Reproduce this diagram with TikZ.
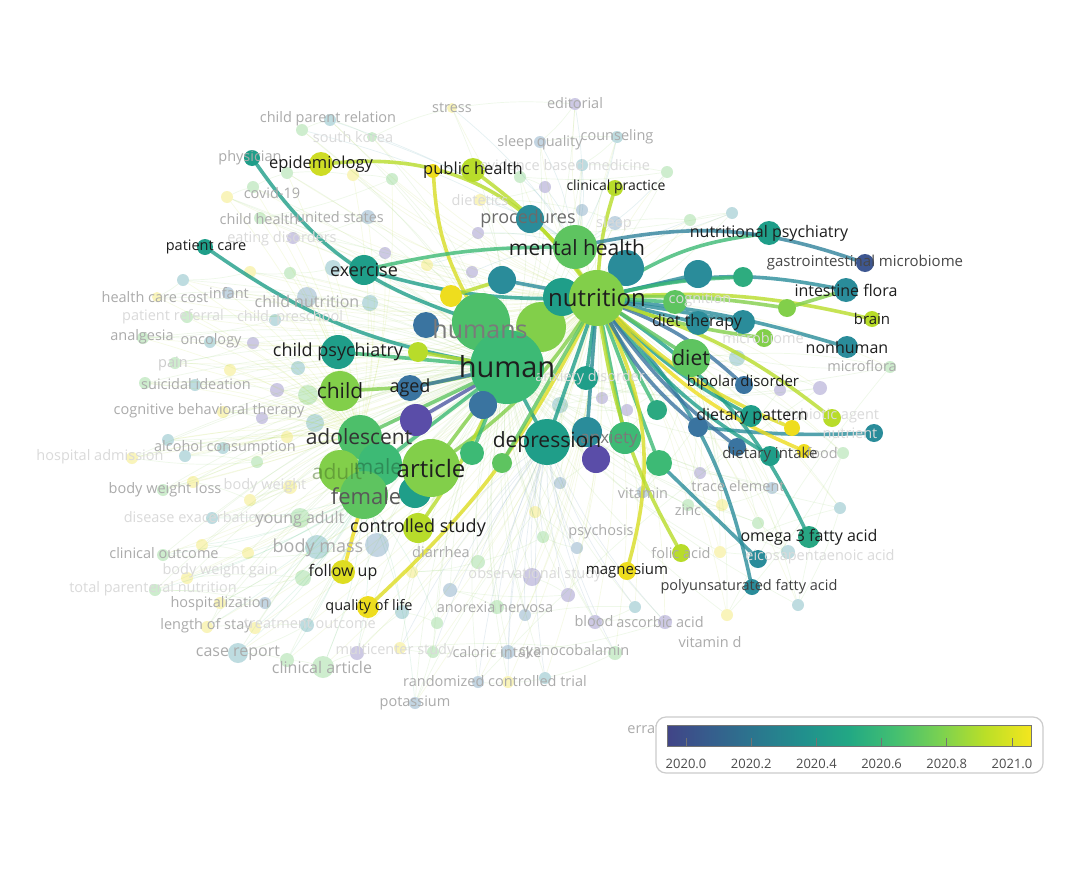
\documentclass[tikz,border=0pt]{standalone}
\usepackage{fontspec}
\setmainfont{Open Sans}

% overlay colours (viridis)
\definecolor{vA}{HTML}{414487}
\definecolor{vP}{HTML}{5A4DA8}
\definecolor{vB}{HTML}{3A74A0}
\definecolor{vC}{HTML}{2A8C9A}
\definecolor{vD}{HTML}{1F9E89}
\definecolor{vE}{HTML}{3DBA75}
\definecolor{vF}{HTML}{5EC460}
\definecolor{vG}{HTML}{82CF4A}
\definecolor{vH}{HTML}{B8DC2A}
\definecolor{vI}{HTML}{EEDD1E}
\definecolor{ink}{HTML}{1E1E1E}
\definecolor{fade}{HTML}{ABABAB}
\definecolor{fadeX}{HTML}{DADADA}
\definecolor{bar1}{HTML}{355F8D}
\definecolor{bar2}{HTML}{2A788E}
\definecolor{bar3}{HTML}{21908D}
\definecolor{bar4}{HTML}{22A884}
\definecolor{bar5}{HTML}{43BF71}
\definecolor{bar6}{HTML}{7AD151}
\definecolor{bar7}{HTML}{BBDF27}
\definecolor{bar8}{HTML}{F4E61E}

\pgfdeclarehorizontalshading{viridis}{100bp}{color(0bp)=(vA); color(25bp)=(vA);
  color(31.25bp)=(bar1); color(37.5bp)=(bar2); color(43.75bp)=(bar3);
  color(50bp)=(bar4); color(56.25bp)=(bar5); color(62.5bp)=(bar6);
  color(68.75bp)=(bar7); color(75bp)=(bar8); color(100bp)=(bar8)}

\pgfdeclarelayer{bg}
\pgfdeclarelayer{mid}
\pgfdeclarelayer{top}
\pgfsetlayers{bg,mid,main,top}

\tikzset{
  kw/.style={circle, inner sep=0pt, draw=none},
  fk/.style={circle, inner sep=0pt, draw=none, fill opacity=0.3},
  link/.style={line width=3.6pt, line cap=round, draw opacity=0.8},
  fedge/.style={line width=0.7pt, draw opacity=0.12},
  lab/.style={inner sep=0pt, text=ink, font=\fontsize{15}{15}\selectfont},
  labM/.style={lab, font=\fontsize{18}{18}\selectfont},
  labL/.style={lab, font=\fontsize{21}{21}\selectfont},
  labXL/.style={lab, font=\fontsize{24}{24}\selectfont},
  flab/.style={lab, text=fade, font=\fontsize{14.5}{14.5}\selectfont},
  flabX/.style={flab, text=fadeX},
  ticklab/.style={inner sep=0pt, text=black!70, font=\fontsize{13}{13}\selectfont}
}

\newcommand{\kwnode}[5]{\node[kw, minimum size={2*#4pt}, fill=#5] (#1) at (#2,#3) {};}
\newcommand{\fknode}[5]{\node[fk, minimum size={2*#4pt}, fill=#5] (#1) at (#2,#3) {};}

\begin{document}
\begin{tikzpicture}[x=1pt,y=-1pt]
\useasboundingbox (0,0) rectangle (1087,870);

% faded keywords
\begin{pgfonlayer}{bg}
\fill[white] (0,0) rectangle (1087,870);
\fknode{f1}{302}{130}{6}{vF}   \fknode{f2}{330}{120}{6}{vC}   \fknode{f3}{372}{137}{5}{vF}
\fknode{f4}{452}{108}{5}{vI}   \fknode{f5}{575}{104}{6}{vP}   \fknode{f6}{540}{142}{6}{vB}
\fknode{f7}{617}{137}{6}{vC}   \fknode{f8}{582}{165}{6}{vC}   \fknode{f9}{667}{172}{6}{vF}
\fknode{f10}{520}{177}{6}{vF}  \fknode{f11}{545}{187}{6}{vP}  \fknode{f12}{480}{200}{6}{vI}
\fknode{f13}{582}{210}{6}{vB}  \fknode{f14}{615}{223}{7}{vB}  \fknode{f15}{690}{220}{6}{vF}
\fknode{f16}{732}{213}{6}{vC}  \fknode{f17}{478}{233}{6}{vP}  \fknode{f18}{427}{265}{6}{vI}
\fknode{f19}{472}{272}{6}{vP}  \fknode{f20}{227}{197}{6}{vI}  \fknode{f21}{253}{187}{6}{vF}
\fknode{f22}{287}{173}{6}{vF}  \fknode{f23}{353}{175}{6}{vI}  \fknode{f24}{392}{179}{6}{vF}
\fknode{f25}{260}{218}{6}{vF}  \fknode{f26}{368}{217}{7}{vB}  \fknode{f27}{293}{238}{6}{vP}
\fknode{f28}{385}{253}{6}{vP}  \fknode{f29}{333}{268}{8}{vC}  \fknode{f30}{290}{273}{6}{vF}
\fknode{f31}{250}{272}{6}{vI}  \fknode{f32}{183}{280}{6}{vC}  \fknode{f33}{157}{297}{5}{vI}
\fknode{f34}{228}{293}{6}{vB}  \fknode{f35}{307}{297}{10}{vB} \fknode{f36}{370}{303}{8}{vC}
\fknode{f37}{187}{317}{6}{vF}  \fknode{f38}{275}{320}{6}{vC}  \fknode{f39}{143}{338}{6}{vF}
\fknode{f40}{210}{342}{6}{vC}  \fknode{f41}{253}{343}{6}{vP}  \fknode{f42}{175}{363}{6}{vF}
\fknode{f43}{230}{370}{6}{vI}  \fknode{f44}{298}{368}{7}{vC}  \fknode{f45}{195}{385}{6}{vC}
\fknode{f46}{145}{383}{6}{vF}  \fknode{f47}{277}{390}{7}{vP}  \fknode{f48}{308}{395}{10}{vF}
\fknode{f49}{223}{412}{6}{vI}  \fknode{f50}{262}{418}{6}{vP}  \fknode{f51}{315}{423}{9}{vC}
\fknode{f52}{168}{440}{6}{vC}  \fknode{f53}{223}{448}{6}{vC}  \fknode{f54}{185}{456}{6}{vC}
\fknode{f55}{257}{462}{6}{vF}  \fknode{f56}{132}{458}{6}{vI}  \fknode{f57}{287}{437}{6}{vI}
\fknode{f58}{163}{490}{6}{vF}  \fknode{f59}{193}{482}{6}{vI}  \fknode{f60}{250}{500}{6}{vI}
\fknode{f61}{290}{487}{7}{vI}  \fknode{f62}{212}{518}{6}{vC}  \fknode{f63}{300}{518}{10}{vF}
\fknode{f64}{317}{547}{12}{vC} \fknode{f65}{377}{545}{12}{vB} \fknode{f66}{163}{555}{6}{vF}
\fknode{f67}{202}{545}{6}{vI}  \fknode{f68}{248}{553}{6}{vI}  \fknode{f69}{187}{578}{6}{vI}
\fknode{f70}{303}{578}{8}{vF}  \fknode{f71}{155}{590}{6}{vF}  \fknode{f72}{265}{603}{6}{vB}
\fknode{f73}{220}{603}{6}{vI}  \fknode{f74}{207}{627}{6}{vI}  \fknode{f75}{255}{628}{6}{vI}
\fknode{f76}{307}{625}{7}{vC}  \fknode{f77}{238}{653}{10}{vC} \fknode{f78}{287}{660}{7}{vF}
\fknode{f79}{323}{667}{11}{vF} \fknode{f80}{357}{653}{7}{vP}  \fknode{f81}{402}{612}{7}{vC}
\fknode{f82}{437}{623}{6}{vF}  \fknode{f83}{415}{703}{6}{vB}  \fknode{f84}{535}{512}{6}{vI}
\fknode{f85}{577}{548}{6}{vB}  \fknode{f86}{543}{537}{6}{vF}  \fknode{f87}{478}{562}{7}{vF}
\fknode{f88}{412}{572}{6}{vI}  \fknode{f89}{532}{577}{9}{vP}  \fknode{f90}{568}{595}{7}{vP}
\fknode{f91}{450}{590}{7}{vB}  \fknode{f92}{497}{607}{7}{vF}  \fknode{f93}{525}{615}{6}{vB}
\fknode{f94}{635}{607}{6}{vC}  \fknode{f95}{595}{622}{7}{vP}  \fknode{f96}{665}{622}{7}{vP}
\fknode{f97}{508}{652}{7}{vB}  \fknode{f98}{433}{652}{6}{vF}  \fknode{f99}{400}{648}{6}{vI}
\fknode{f100}{615}{653}{7}{vF} \fknode{f101}{545}{678}{6}{vC} \fknode{f102}{508}{682}{6}{vI}
\fknode{f103}{478}{682}{6}{vB} \fknode{f104}{820}{388}{7}{vP} \fknode{f105}{780}{390}{6}{vP}
\fknode{f106}{700}{473}{6}{vP} \fknode{f107}{772}{488}{6}{vB} \fknode{f108}{722}{505}{6}{vI}
\fknode{f109}{688}{505}{6}{vF} \fknode{f110}{758}{523}{6}{vF} \fknode{f111}{788}{552}{7}{vC}
\fknode{f112}{720}{552}{6}{vI} \fknode{f113}{840}{508}{6}{vC} \fknode{f114}{798}{605}{6}{vC}
\fknode{f115}{843}{453}{6}{vF} \fknode{f116}{727}{615}{6}{vI} \fknode{f117}{890}{367}{6}{vF}
\fknode{f118}{737}{358}{8}{vC} \fknode{f119}{643}{492}{6}{vB} \fknode{f120}{602}{398}{6}{vP}
\fknode{f121}{627}{410}{6}{vP} \fknode{f122}{560}{405}{8}{vC} \fknode{f123}{560}{483}{6}{vB}
\end{pgfonlayer}

% highlighted keywords
\kwnode{humans}{481}{322}{29}{vE!50!vF}
\kwnode{lgreen}{541}{327}{25}{vG}
\kwnode{tealB}{562}{297}{19}{vD}
\kwnode{mental}{575}{247}{22}{vF}
\kwnode{tealA}{626}{268}{18}{vC}
\kwnode{nutr}{597}{298}{28}{vG}
\kwnode{human}{507}{367}{37}{vE}
\kwnode{proc}{530}{219}{14}{vC}
\kwnode{clinp}{615}{188}{8}{vH}
\kwnode{pubY}{433}{171}{7}{vI}
\kwnode{pubG}{473}{170}{12}{vH}
\kwnode{epid}{321}{164}{12}{vH!60!vI}
\kwnode{phys}{252}{158}{8}{vD}
\kwnode{patc}{205}{247}{8}{vD}
\kwnode{exer}{364}{270}{15}{vD}
\kwnode{yelA}{451}{296}{11}{vI}
\kwnode{tealC}{502}{280}{14}{vC}
\kwnode{blueA}{426}{325}{13}{vB}
\kwnode{chpsy}{338}{352}{17}{vD}
\kwnode{ygA}{418}{352}{10}{vH}
\kwnode{child}{340}{391}{20}{vG}
\kwnode{aged}{410}{388}{13}{vB}
\kwnode{purA}{416}{420}{16}{vP}
\kwnode{blueB}{483}{405}{14}{vB}
\kwnode{adol}{360}{437}{22}{vE!50!vF}
\kwnode{adult}{340}{471}{21}{vG}
\kwnode{male}{380}{464}{22}{vE}
\kwnode{female}{364}{495}{24}{vF}
\kwnode{tealD}{415}{492}{16}{vD}
\kwnode{article}{431}{468}{29}{vG}
\kwnode{ctrl}{418}{528}{15}{vH}
\kwnode{follow}{343}{572}{12}{vI!70!vH}
\kwnode{qol}{368}{607}{11}{vI}
\kwnode{depr}{547}{442}{23}{vD}
\kwnode{anxT}{587}{432}{15}{vC}
\kwnode{anxG}{625}{438}{16}{vE}
\kwnode{purB}{596}{459}{14}{vP}
\kwnode{gA}{472}{453}{12}{vE}
\kwnode{gB}{502}{463}{10}{vF}
\kwnode{anxd}{586}{378}{12}{vD}
\kwnode{diet}{691}{358}{19}{vF}
\kwnode{dthB}{698}{323}{12}{vC}
\kwnode{dthT}{743}{322}{12}{vC}
\kwnode{cogn}{675}{302}{12}{vF}
\kwnode{tealE}{698}{274}{14}{vC}
\kwnode{gtE}{743}{277}{10}{vE!50!vD}
\kwnode{gF}{787}{308}{9}{vG}
\kwnode{gG}{764}{338}{9}{vG}
\kwnode{nutps}{769}{233}{12}{vD}
\kwnode{gim}{865}{263}{9}{vA!60!vB}
\kwnode{intf}{846}{290}{12}{vC}
\kwnode{brain}{872}{319}{8}{vH}
\kwnode{nonh}{847}{347}{11}{vC}
\kwnode{bipol}{744}{385}{9}{vB}
\kwnode{dpA}{657}{410}{10}{vD!60!vE}
\kwnode{dpB}{698}{427}{10}{vB}
\kwnode{dpC}{751}{416}{11}{vD}
\kwnode{dpY}{792}{428}{8}{vI}
\kwnode{dpG}{832}{418}{9}{vH}
\kwnode{nutri}{874}{433}{9}{vC}
\kwnode{diA}{737}{447}{9}{vB}
\kwnode{diT}{770}{456}{10}{vD}
\kwnode{diY}{804}{451}{7}{vI}
\kwnode{gH}{659}{463}{13}{vE}
\kwnode{omega}{809}{537}{11}{vD!70!vE}
\kwnode{epa}{758}{559}{9}{vC}
\kwnode{pufa}{752}{587}{8}{vC}
\kwnode{folic}{681}{553}{9}{vH}
\kwnode{magn}{627}{571}{9}{vI}

% faint co-occurrence web
\begin{pgfonlayer}{bg}
\foreach \i [evaluate=\i as \j using int(\i+1)] in {1,...,122}
  \draw[fedge, vE!50!vH] (f\i) to[bend left=6] (f\j);
\foreach \i in {1,...,123} {
  \draw[fedge, vD!40!vH] (f\i) to[bend left=10] (human);
  \draw[fedge, vF!40!vI] (f\i) to[bend right=10] (nutr);
}
\foreach \i in {1,...,19} \draw[fedge, vC] (f\i) to[bend left=8] (mental);
\foreach \i in {20,...,61} \draw[fedge, vH] (f\i) to[bend left=8] (adol);
\foreach \i in {62,...,83} \draw[fedge, vE] (f\i) to[bend right=8] (female);
\foreach \i in {84,...,103} \draw[fedge, vB] (f\i) to[bend left=8] (depr);
\foreach \i in {104,...,123} \draw[fedge, vG] (f\i) to[bend right=8] (diet);
\end{pgfonlayer}

% highlighted links
\begin{pgfonlayer}{mid}
\draw[link, vD] (phys) to[bend right=18] (humans);
\draw[link, vD] (patc) to[bend right=12] (human);
\draw[link, vH] (epid) to[bend left=30] (nutr);
\draw[link, vI!60!vH] (pubY) to[bend right=12] (humans);
\draw[link, vH] (pubG) to[bend left=8] (nutr);
\draw[link, vH] (clinp) to[bend right=6] (nutr);
\draw[link, vE] (exer) to[bend left=6] (mental);
\draw[link, vD] (exer) to[bend right=8] (nutr);
\draw[link, vE] (chpsy) -- (human);
\draw[link, vG] (child) to[bend right=5] (human);
\draw[link, vH] (ygA) -- (human);
\draw[link, vB] (aged) -- (human);
\draw[link, vP!70!vB] (purA) -- (human);
\draw[link, vF] (adol) -- (human);
\draw[link, vG] (article) -- (human);
\draw[link, vG] (article) to[bend right=10] (nutr);
\draw[link, vE] (male) -- (human);
\draw[link, vI] (follow) -- (female);
\draw[link, vI!70!vH] (qol) to[bend right=10] (nutr);
\draw[link, vH] (ctrl) to[bend right=5] (human);
\draw[link, vD] (depr) -- (human);
\draw[link, vD] (depr) -- (nutr);
\draw[link, vE] (gA) -- (human);
\draw[link, vF] (gB) -- (nutr);
\draw[link, vB] (blueB) -- (human);
\draw[link, vD] (anxd) -- (nutr);
\draw[link, vC] (anxT) -- (nutr);
\draw[link, vE] (anxG) -- (nutr);
\draw[link, vP] (purB) -- (anxT);
\draw[link, vH] (yelA) -- (tealC);
\draw[link, vC] (tealC) -- (nutr);
\draw[link, vE] (gH) -- (nutr);
\draw[link, vE] (dpA) -- (nutr);
\draw[link, vI!60!vH] (nutr) to[bend left=20] (magn);
\draw[link, vH] (nutr) to[bend right=10] (folic);
\draw[link, vC] (pufa) to[bend right=15] (nutr);
\draw[link, vD] (omega) to[bend right=15] (nutr);
\draw[link, vC] (gH) -- (epa);
\draw[link, vE] (nutr) to[bend left=12] (nutps);
\draw[link, vC!60!vB] (mental) to[bend left=15] (gim);
\draw[link, vC] (nutr) to[bend left=12] (intf);
\draw[link, vH] (nutr) to[bend left=8] (brain);
\draw[link, vC] (nutr) to[bend left=5] (nonh);
\draw[link, vC] (nutr) -- (tealE);
\draw[link, vE] (nutr) to[bend left=5] (gtE);
\draw[link, vG] (nutr) to[bend left=5] (gF);
\draw[link, vG] (gF) -- (intf);
\draw[link, vG] (nutr) to[bend right=5] (gG);
\draw[link, vC] (nutr) -- (dthT);
\draw[link, vC] (nutr) -- (dthB);
\draw[link, vF] (nutr) -- (diet);
\draw[link, vE] (nutr) -- (cogn);
\draw[link, vB] (nutr) to[bend left=10] (bipol);
\draw[link, vD] (nutr) to[bend right=8] (dpC);
\draw[link, vI!70!vH] (nutr) to[bend right=10] (dpY);
\draw[link, vH] (nutr) to[bend left=10] (dpG);
\draw[link, vC] (dpB) to[bend right=4] (nutri);
\draw[link, vB] (nutr) to[bend right=10] (dpB);
\draw[link, vD] (nutr) to[bend right=10] (diT);
\draw[link, vI] (nutr) to[bend right=12] (diY);
\draw[link, vB] (nutr) to[bend right=8] (diA);
\end{pgfonlayer}

% labels
\begin{pgfonlayer}{top}
\node[flab] (t1) at (328,119) {child parent relation};
\node[flabX] (t2) at (353,137) {south korea};
\node[flab] (t3) at (452,108) {stress};
\node[flab] (t4) at (575,103) {editorial};
\node[flab] (t5) at (540,143) {sleep quality};
\node[flab] (t6) at (617,137) {counseling};
\node[flabX] (t7) at (565,165) {evidence based medicine};
\node[flabX] (t8) at (480,200) {dietetics};
\node[flabX] (t9) at (614,224) {sleep};
\node[flab] (t10) at (250,158) {physician};
\node[flab] (t11) at (272,193) {covid-19};
\node[flab] (t12) at (259,219) {child health};
\node[flab] (t13) at (340,217) {united states};
\node[flabX] (t14) at (282,239) {eating disorders};
\node[flab] (t15) at (155,297) {health care cost};
\node[flab] (t16) at (229,293) {infant};
\node[flab, font=\fontsize{16}{16}\selectfont] (t17) at (307,301) {child nutrition};
\node[flabX] (t18) at (173,317) {patient referral};
\node[flabX] (t19) at (290,318) {child, preschool};
\node[flab] (t20) at (142,337) {analgesia};
\node[flab] (t21) at (211,341) {oncology};
\node[flab, text=fadeX!70!fade] (t22) at (173,364) {pain};
\node[flab] (t23) at (196,384) {suicidal ideation};
\node[flab] (t24) at (209,411) {cognitive behavioral therapy};
\node[flab] (t25) at (225,448) {alcohol consumption};
\node[flabX] (t26) at (100,457) {hospital admission};
\node[flab] (t27) at (165,490) {body weight loss};
\node[flabX] (t28) at (265,486) {body weight};
\node[flabX] (t29) at (195,517) {disease exacerbation};
\node[flab, font=\fontsize{16}{16}\selectfont] (t30) at (300,519) {young adult};
\node[flab, font=\fontsize{18}{18}\selectfont] (t31) at (318,548) {body mass};
\node[flab] (t32) at (164,553) {clinical outcome};
\node[flabX] (t33) at (220,571) {body weight gain};
\node[flabX] (t34) at (153,589) {total parenteral nutrition};
\node[flab] (t35) at (220,604) {hospitalization};
\node[flab] (t36) at (206,626) {length of stay};
\node[flabX] (t37) at (310,624) {treatment outcome};
\node[flab, font=\fontsize{16}{16}\selectfont] (t38) at (238,653) {case report};
\node[flab, font=\fontsize{16}{16}\selectfont] (t39) at (322,667) {clinical article};
\node[flab] (t40) at (441,552) {diarrhea};
\node[flabX] (t41) at (535,575) {observational study};
\node[flab] (t42) at (495,607) {anorexia nervosa};
\node[flabX] (t43) at (395,651) {multicenter study};
\node[flab] (t44) at (497,652) {caloric intake};
\node[flab] (t45) at (574,652) {cyanocobalamin};
\node[flab] (t46) at (495,681) {randomized controlled trial};
\node[flab] (t47) at (415,703) {potassium};
\node[flab] (t48) at (601,532) {psychosis};
\node[flab] (t49) at (594,621) {blood};
\node[flab] (t50) at (660,622) {ascorbic acid};
\node[flab] (t51) at (710,642) {vitamin d};
\node[flab] (t52) at (643,493) {vitamin};
\node[flab] (t53) at (688,510) {zinc};
\node[flab] (t54) at (738,486) {trace element};
\node[flab] (t55) at (822,453) {food};
\node[flabX] (t56) at (850,433) {nutrient};
\node[flabX] (t57) at (828,416) {probiotic agent};
\node[flabX] (t58) at (763,338) {microbiome};
\node[flabX] (t59) at (700,300) {cognition};
\node[flabX] (t60) at (590,378) {anxiety disorder};
\node[flabX] (t61) at (820,557) {eicosapentaenoic acid};
\node[flab] (t62) at (862,366) {microflora};
\node[flab] (t63) at (681,553) {folic acid};
\node[flab] (t64) at (655,729) {erratum};
\node[flab, text=black!52, font=\fontsize{25}{25}\selectfont] (t65) at (480,329) {humans};
\node[flab, text=black!58, font=\fontsize{18}{18}\selectfont] (t66) at (528,219) {procedures};
\node[flab, text=black!52, font=\fontsize{17}{17}\selectfont] (t67) at (609,439) {anxiety};
\node[flab, text=vG!55!black, font=\fontsize{21}{21}\selectfont, text opacity=0.5] (t68) at (337,472) {adult};
\node[flab, text=vE!55!black, font=\fontsize{21}{21}\selectfont, text opacity=0.55] (t69) at (378,467) {male};
\node[flab, text=black!65, font=\fontsize{22}{22}\selectfont] (t70) at (366,496) {female};
\node[labL, text=black!80] (t71) at (359,437) {adolescent};

\node[lab, font=\fontsize{29}{29}\selectfont] (human-t) at (human) {human};
\node[labXL] (nutr-t) at (nutr) {nutrition};
\node[labL] (mental-t) at (577,248) {mental health};
\node[labL] (depr-t) at (depr) {depression};
\node[labXL] (article-t) at (article) {article};
\node[labL] (child-t) at (child) {child};
\node[labM] (chpsy-t) at (chpsy) {child psychiatry};
\node[labL] (diet-t) at (diet) {diet};
\node[labM] (exer-t) at (exer) {exercise};
\node[labM] (ctrl-t) at (ctrl) {controlled study};
\node[labM] (aged-t) at (aged) {aged};
\node[lab, font=\fontsize{16.5}{16.5}\selectfont] (pub-t) at (pubG) {public health};
\node[lab, font=\fontsize{16.5}{16.5}\selectfont] (epid-t) at (epid) {epidemiology};
\node[lab, font=\fontsize{16}{16}\selectfont] (nutps-t) at (769,233) {nutritional psychiatry};
\node[lab, text=black!72] (gim-t) at (865,263) {gastrointestinal microbiome};
\node[lab, font=\fontsize{16}{16}\selectfont] (intf-t) at (846,290) {intestine flora};
\node[lab] (brain-t) at (872,319) {brain};
\node[lab, font=\fontsize{16}{16}\selectfont] (nonh-t) at (847,347) {nonhuman};
\node[lab, font=\fontsize{16}{16}\selectfont] (dth-t) at (697,322) {diet therapy};
\node[lab] (bipol-t) at (743,383) {bipolar disorder};
\node[lab, font=\fontsize{16}{16}\selectfont] (dp-t) at (752,416) {dietary pattern};
\node[lab, text=black!75] (di-t) at (770,455) {dietary intake};
\node[lab, font=\fontsize{16}{16}\selectfont] (omega-t) at (809,537) {omega 3 fatty acid};
\node[lab, text=black!75, font=\fontsize{14.5}{14.5}\selectfont] (pufa-t) at (749,587) {polyunsaturated fatty acid};
\node[lab] (magn-t) at (627,571) {magnesium};
\node[lab, font=\fontsize{16}{16}\selectfont] (follow-t) at (343,572) {follow up};
\node[lab, font=\fontsize{14.5}{14.5}\selectfont] (qol-t) at (369,607) {quality of life};
\node[lab, font=\fontsize{14}{14}\selectfont] (clinp-t) at (616,187) {clinical practice};
\node[lab, font=\fontsize{14.5}{14.5}\selectfont] (patc-t) at (206,247) {patient care};

% colour legend
\draw[draw=black!20, line width=1.2pt, rounded corners=10pt, fill=white] (656,717) rectangle (1043,773);
\shade[shading=viridis] (667,725) rectangle (1031,746);
\draw[black!55, line width=0.8pt] (667,725) rectangle (1031,746);
\foreach \k/\yr in {0/2020.0,1/2020.2,2/2020.4,3/2020.6,4/2020.8,5/2021.0} {
  \draw[black!55, line width=0.8pt] ({686+65.2*\k},738) -- ({686+65.2*\k},746);
  \node[ticklab] (tk\k) at ({686+65.2*\k},764) {\yr};
}
\end{pgfonlayer}
\end{tikzpicture}
\end{document}
